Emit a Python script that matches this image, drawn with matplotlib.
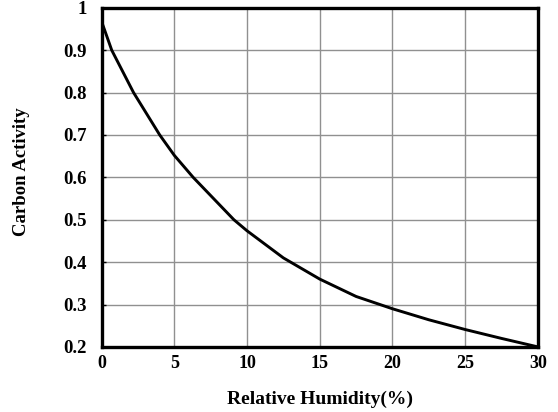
import matplotlib.pyplot as plt

# relative humidity (%) vs carbon activity
humidity = [0, 0.7, 2.2, 4.0, 5, 6.3, 9.1, 10, 12.5, 15, 17.5, 20, 22.5, 25, 27.5, 30]
activity = [0.968, 0.9, 0.8, 0.7, 0.652, 0.6, 0.5, 0.474, 0.41, 0.36, 0.319,
            0.29, 0.264, 0.241, 0.22, 0.2]

x_ticks = [0, 5, 10, 15, 20, 25, 30]
y_ticks = [0.2, 0.3, 0.4, 0.5, 0.6, 0.7, 0.8, 0.9, 1.0]
y_tick_labels = ['0.2', '0.3', '0.4', '0.5', '0.6', '0.7', '0.8', '0.9', '1']

plt.rcParams['font.family'] = ['Liberation Serif', 'DejaVu Serif']
plt.rcParams['font.weight'] = 'bold'

fig = plt.figure(figsize=(5.58, 4.12), dpi=100)
ax = fig.add_axes([0.182, 0.158, 0.782, 0.823])

ax.plot(humidity, activity, color='black', lw=2.1, solid_joinstyle='round')

ax.set_xlim(0, 30)
ax.set_ylim(0.2, 1.0)
ax.set_xticks(x_ticks)
ax.set_xticklabels([str(t) for t in x_ticks], fontsize=13, fontweight='bold')
ax.set_yticks(y_ticks)
ax.set_yticklabels(y_tick_labels, fontsize=13.5, fontweight='bold')

ax.grid(True, color='#909090', lw=1.0)
ax.tick_params(axis='y', direction='in', length=3, width=1, pad=10.5)
ax.tick_params(axis='x', length=0, pad=6)

for s in ax.spines.values():
    s.set_linewidth(2.4)
    s.set_color('black')

ax.set_xlabel('Relative Humidity(%)', fontsize=14, fontweight='bold')
ax.xaxis.set_label_coords(0.5, -0.13)
fig.text(0.038, 0.584, 'Carbon Activity', rotation=90, fontsize=13.5,
         fontweight='bold', ha='center', va='center')

fig.savefig('out.png', dpi=100)
